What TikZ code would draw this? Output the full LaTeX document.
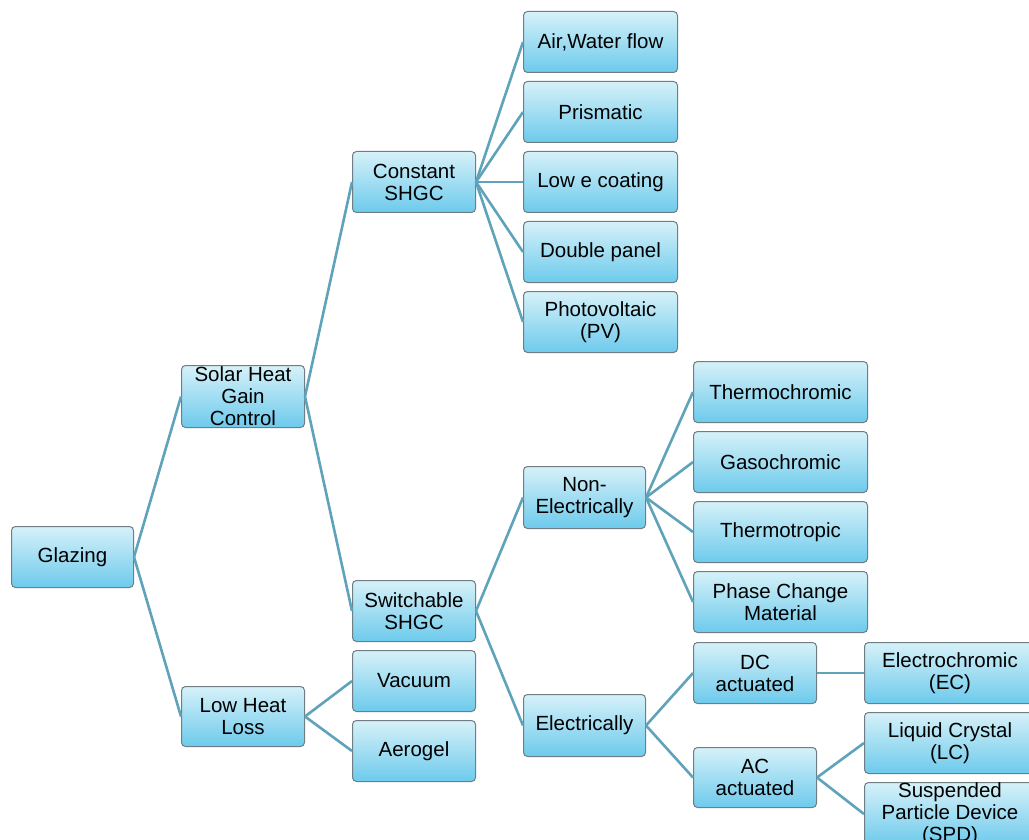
\documentclass[tikz,border=0pt]{standalone}
\usepackage{fontspec}
\setmainfont{Liberation Sans}
\definecolor{boxtop}{HTML}{D6F1F9}
\definecolor{boxbot}{HTML}{6DCAEC}
\definecolor{boxline}{HTML}{6E7E84}
\definecolor{connc}{HTML}{5FA3BB}
\newcommand{\boxfont}{\fontsize{20.5}{22}\selectfont}
\tikzset{
  box/.style={draw=boxline, line width=1pt, rounded corners=4pt, top color=boxtop, bottom color=boxbot,
    anchor=north west, align=center, inner sep=0pt, font=\boxfont},
  conn/.style={draw=connc, line width=2.6pt}
}
\begin{document}
\begin{tikzpicture}[x=1pt,y=-1pt]
\useasboundingbox (0,0) rectangle (1029,840);
\clip (0,0) rectangle (1029,840);
\fill[white] (0,0) rectangle (1029,840);
% level 0
\node[box, minimum width=122pt, minimum height=61pt] (glz) at (11,526) {Glazing};
% level 1
\node[box, minimum width=123pt, minimum height=62pt] (shgc) at (181,365) {Solar Heat\\Gain\\Control};
\node[box, minimum width=123pt, minimum height=60pt] (lhl) at (181,686) {Low Heat\\Loss};
% level 2
\node[box, minimum width=123pt, minimum height=61pt] (cst) at (352,151) {Constant\\SHGC};
\node[box, minimum width=123pt, minimum height=61pt] (sw) at (352,580) {Switchable\\SHGC};
\node[box, minimum width=123pt, minimum height=61pt] (vac) at (352,650) {Vacuum};
\node[box, minimum width=123pt, minimum height=61pt] (aer) at (352,720) {Aerogel};
% level 3 constant
\node[box, minimum width=154pt, minimum height=61pt] (air) at (523,11) {Air,Water flow};
\node[box, minimum width=154pt, minimum height=61pt] (pri) at (523,81) {Prismatic};
\node[box, minimum width=154pt, minimum height=61pt] (lowe) at (523,151) {Low e coating};
\node[box, minimum width=154pt, minimum height=61pt] (dbl) at (523,221) {Double panel};
\node[box, minimum width=154pt, minimum height=61pt] (pv) at (523,291) {Photovoltaic\\(PV)};
% level 3 switchable
\node[box, minimum width=122pt, minimum height=62pt] (nel) at (523,466) {Non-\\Electrically};
\node[box, minimum width=122pt, minimum height=62pt] (el) at (523,694) {Electrically};
% level 4
\node[box, minimum width=174pt, minimum height=61pt] (thc) at (693,361) {Thermochromic};
\node[box, minimum width=174pt, minimum height=61pt] (gas) at (693,431) {Gasochromic};
\node[box, minimum width=174pt, minimum height=61pt] (tht) at (693,501) {Thermotropic};
\node[box, minimum width=174pt, minimum height=61pt] (pcm) at (693,571) {Phase Change\\Material};
\node[box, minimum width=123pt, minimum height=61pt] (dc) at (693,642) {DC\\actuated};
\node[box, minimum width=123pt, minimum height=60pt] (ac) at (693,747) {AC\\actuated};
% level 5
\node[box, minimum width=171pt, minimum height=61pt] (ec) at (864,642) {Electrochromic\\(EC)};
\node[box, minimum width=171pt, minimum height=61pt] (lc) at (864,712) {Liquid Crystal\\(LC)};
\node[box, minimum width=171pt, minimum height=62pt] (spd) at (864,782) {Suspended\\Particle Device\\(SPD)};
% connectors
\draw[conn] (glz.east) -- (shgc.west);
\draw[conn] (glz.east) -- (lhl.west);
\draw[conn] (shgc.east) -- (cst.west);
\draw[conn] (shgc.east) -- (sw.west);
\draw[conn] (lhl.east) -- (vac.west);
\draw[conn] (lhl.east) -- (aer.west);
\foreach \t in {air,pri,lowe,dbl,pv} \draw[conn] (cst.east) -- (\t.west);
\draw[conn] (sw.east) -- (nel.west);
\draw[conn] (sw.east) -- (el.west);
\foreach \t in {thc,gas,tht,pcm} \draw[conn] (nel.east) -- (\t.west);
\draw[conn] (el.east) -- (dc.west);
\draw[conn] (el.east) -- (ac.west);
\draw[conn] (dc.east) -- (ec.west);
\draw[conn] (ac.east) -- (lc.west);
\draw[conn] (ac.east) -- (spd.west);
\end{tikzpicture}
\end{document}
